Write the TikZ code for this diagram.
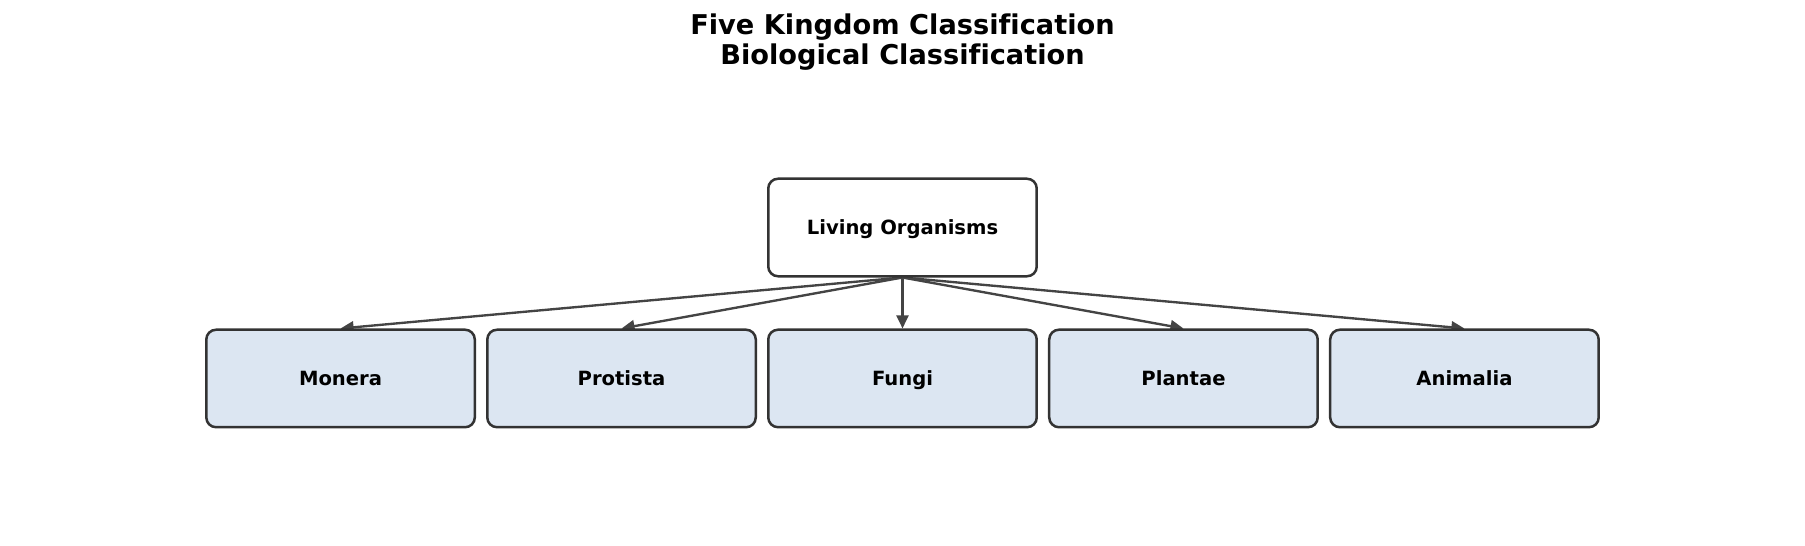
\documentclass[tikz,border=0pt]{standalone}
\usepackage{fontspec}
\setmainfont[Ligatures=NoCommon]{DejaVu Sans}
\usepackage{tikz}
\usetikzlibrary{arrows.meta, positioning, backgrounds}
\definecolor{colBorder}{HTML}{333333}
\definecolor{colArrow} {HTML}{444444}
\definecolor{colLeaf}  {HTML}{DCE6F2}
\tikzset{
  kbox/.style={
    draw=colBorder, rounded corners=7pt,
    minimum width=193.3pt, minimum height=70.2pt,
    align=center, line width=1.8pt, font=\fontsize{14.1}{17}\selectfont\bfseries,
    text height=1.08em, text depth=0em
  },
  rootbox/.style ={kbox, fill=white},
  leafbox/.style ={kbox, fill=colLeaf},
  karr/.style={
    -{Triangle[length=9.4pt,width=8.6pt]},
    line width=1.7pt, draw=colArrow
  }
}

\begin{document}
\begin{tikzpicture}[x=0.72pt, y=-0.72pt, node distance=36.7pt and 7.2pt]
  \useasboundingbox (0,0) rectangle (1805,546);
  \node[align=center, font=\fontsize{19.6}{22}\selectfont\bfseries] (title) at (902.5,42)
    {Five Kingdom Classification\\Biological Classification};
  \node[rootbox] (root) at (902.5,227.5) {Living Organisms};
  \node[leafbox, below=of root]   (fungi)    {Fungi};
  \node[leafbox, left=of fungi]   (protista) {Protista};
  \node[leafbox, left=of protista](monera)   {Monera};
  \node[leafbox, right=of fungi]  (plantae)  {Plantae};
  \node[leafbox, right=of plantae](animalia) {Animalia};
  \begin{scope}[on background layer]
    \foreach \k in {monera, protista, fungi, plantae, animalia}
      \draw[karr] (root.south) -- (\k.north);
  \end{scope}
\end{tikzpicture}
\end{document}
